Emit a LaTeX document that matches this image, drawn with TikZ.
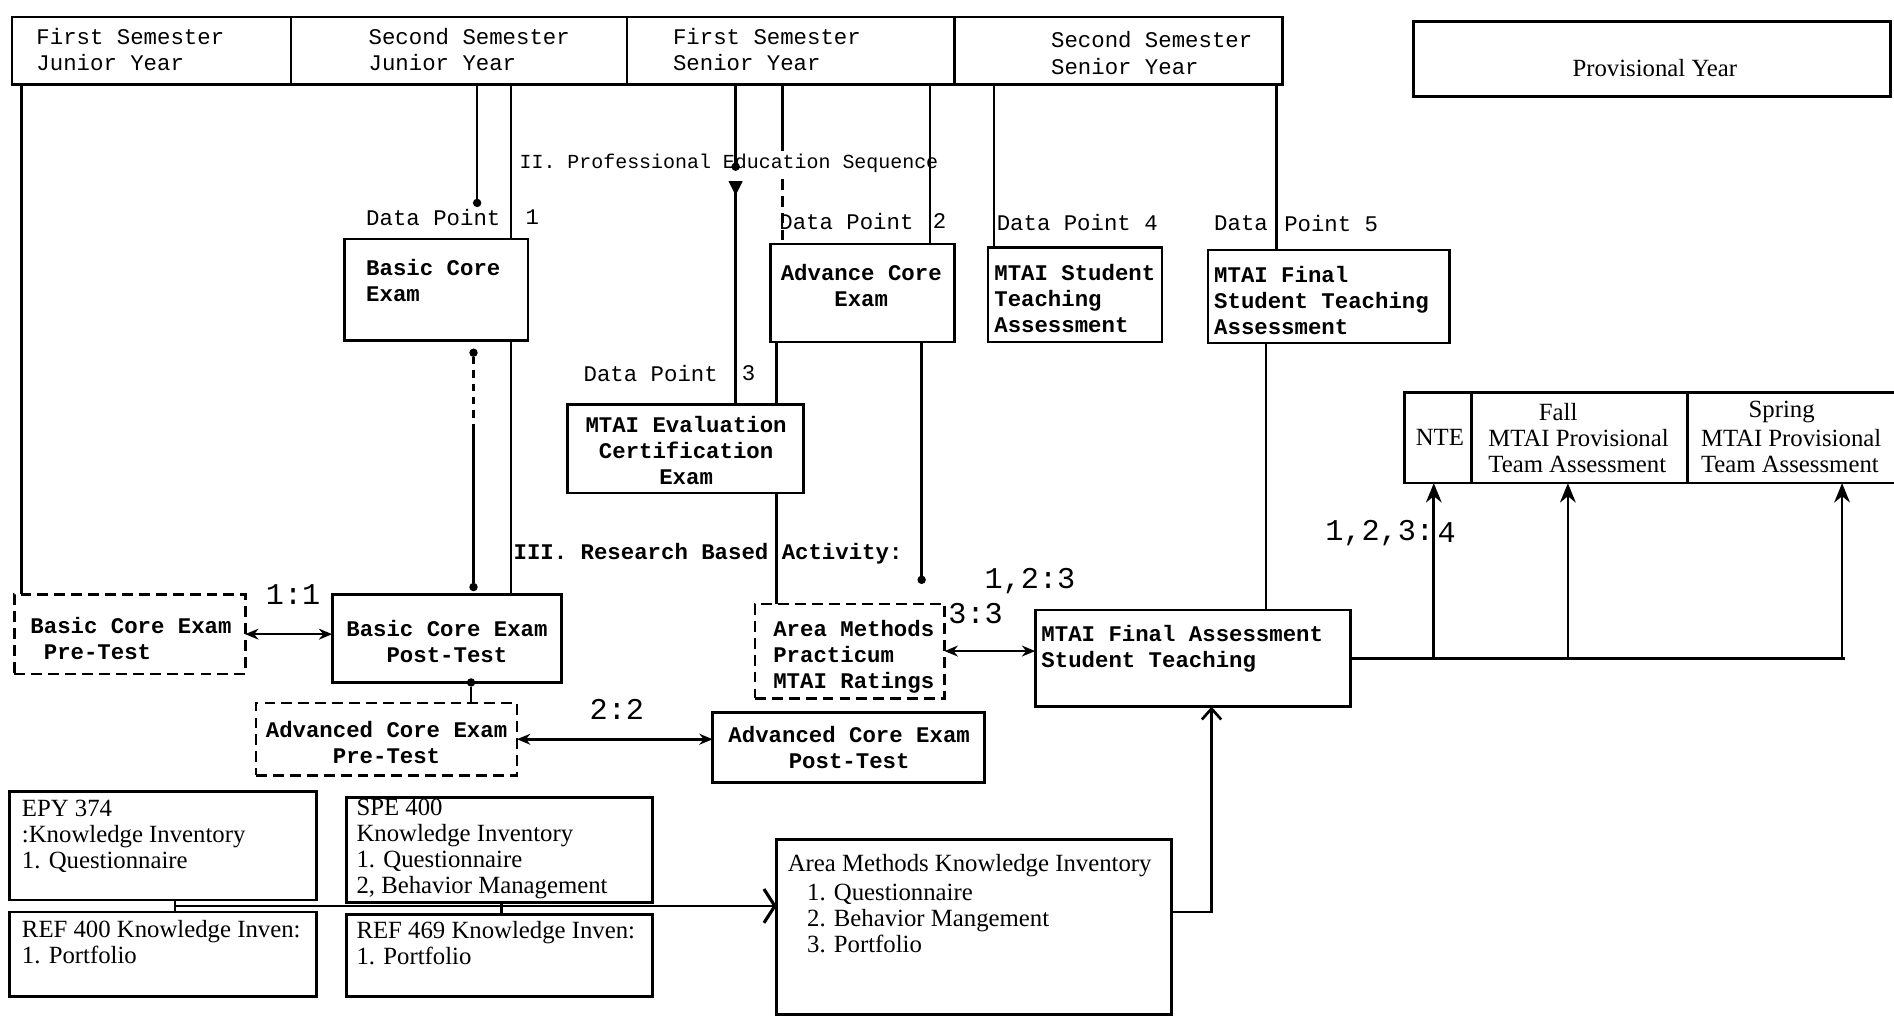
\documentclass[tikz,border=0pt]{standalone}
\usepackage{fontspec}
\usetikzlibrary{arrows.meta,calc}
\newfontfamily\monof{Liberation Mono}
\newfontfamily\serf{Liberation Serif}
\begin{document}
\begin{tikzpicture}[x=1pt,y=-1pt,
  ln/.style={line width=2.2pt},
  bx/.style={draw, line width=2.2pt, inner sep=0pt, outer sep=0pt, anchor=north west},
  dbx/.style={bx, dash pattern=on 9pt off 5pt},
  hd/.style={font=\monof\fontsize{18.5}{22}\selectfont, inner sep=0pt, align=left, anchor=west},
  bt/.style={font=\monof\bfseries\fontsize{18.5}{21.5}\selectfont, inner sep=0pt, align=left, anchor=west},
  btc/.style={bt, align=center, anchor=center},
  lbl/.style={font=\monof\fontsize{18.5}{21}\selectfont, inner sep=0pt, anchor=west},
  sml/.style={font=\monof\fontsize{16.5}{20}\selectfont, inner sep=0pt, anchor=west},
  rat/.style={font=\monof\fontsize{25}{25}\selectfont, inner sep=0pt, anchor=west},
  st/.style={font=\serf\fontsize{20.5}{21.5}\selectfont, inner sep=0pt, align=left, anchor=west},
  dotn/.style={circle, fill, inner sep=0pt, minimum size=7pt},
  dbl/.style={line width=2.2pt, {Stealth[length=11pt,width=9pt]}-{Stealth[length=11pt,width=9pt]}},
  uparr/.style={line width=2.2pt, -{Stealth[length=16pt,width=13pt]}}
]
\useasboundingbox (0,0) rectangle (1568,843);

% header
\node[bx, minimum width=231, minimum height=56] (h1) at (10,14) {};
\node[bx, minimum width=278, minimum height=56] (h2) at (241,14) {};
\node[bx, minimum width=271, minimum height=56] (h3) at (519,14) {};
\node[bx, minimum width=272, minimum height=56] (h4) at (790,14) {};
\node[hd] (h1t) at (30,41) {First Semester\\Junior Year};
\node[hd] (h2t) at (305,41) {Second Semester\\Junior Year};
\node[hd] (h3t) at (557,41) {First Semester\\Senior Year};
\node[hd] (h4t) at (870,44) {Second Semester\\Senior Year};
\node[bx, minimum width=395, minimum height=62] (prov) at (1170,18) {};
\node[st, anchor=center] (provt) at (1370,56) {Provisional Year};

% upper boxes
\node[bx, minimum width=152, minimum height=84] (bce) at (285,198) {};
\node[bt] (bcet) at (303,232) {Basic Core\\Exam};
\node[bx, minimum width=152, minimum height=81] (adv) at (638,202) {};
\node[btc] (advt) at (713,236) {Advance Core\\Exam};
\node[bx, minimum width=144, minimum height=78] (stb) at (818,205) {};
\node[bt] (stbt) at (823,247) {MTAI Student\\Teaching\\Assessment};
\node[bx, minimum width=200, minimum height=77] (fin) at (1000,207) {};
\node[bt] (fint) at (1005,249) {MTAI Final\\Student Teaching\\Assessment};
\node[bx, minimum width=195, minimum height=73] (eval) at (470,335) {};
\node[btc] (evalt) at (568,373) {MTAI Evaluation\\Certification\\Exam};

% labels
\node[lbl] (dp1) at (303,180) {Data Point};
\node[lbl] (dp1n) at (435,180) {1};
\node[lbl] (dp2) at (645,183) {Data Point};
\node[lbl] (dp2n) at (772,183) {2};
\node[lbl] (dp3) at (483,309) {Data Point};
\node[lbl] (dp3n) at (614,309) {3};
\node[lbl] (dp4) at (825,184) {Data Point 4};
\node[lbl] (dp5) at (1005,185) {Data};
\node[lbl] (dp5n) at (1063,185) {Point 5};
\node[sml] (seq) at (430,135) {II. Professional Education Sequence};
\node[bt] (res) at (425,458) {III. Research Based Activity:};

% middle boxes
\node[dbx, minimum width=191, minimum height=66] (pre) at (12,492) {};
\node[bt] (pret) at (25,529) {Basic Core Exam\\~Pre-Test};
\node[bx, minimum width=190, minimum height=73] (post) at (275,492) {};
\node[btc] (postt) at (370,531) {Basic Core Exam\\Post-Test};
\node[dbx, minimum width=216, minimum height=60] (apre) at (212,582) {};
\node[btc] (apret) at (320,615) {Advanced Core Exam\\Pre-Test};
\node[bx, minimum width=225, minimum height=58] (apost) at (590,590) {};
\node[btc] (apostt) at (703,619) {Advanced Core Exam\\Post-Test};
\node[dbx, minimum width=157, minimum height=78] (amp) at (625,500) {};
\node[bt] (ampt) at (640,544) {Area Methods\\Practicum\\MTAI Ratings};
\node[bx, minimum width=261, minimum height=80] (fa) at (857,505) {};
\node[bt] (fat) at (862,537) {MTAI Final Assessment\\Student Teaching};

% provisional row
\node[bx, minimum width=55, minimum height=75] (nte) at (1163,325) {};
\node[bx, minimum width=179, minimum height=75] (fall) at (1218,325) {};
\node[bx, minimum width=180, minimum height=75] (spring) at (1397,325) {};
\node[st, anchor=center] (ntet) at (1192,362) {NTE};
\node[st, anchor=center] (fallh) at (1290,341) {Fall};
\node[st] (fallt) at (1232,373) {MTAI Provisional\\Team Assessment};
\node[st, anchor=center] (springh) at (1475,341) {Spring};
\node[st] (springt) at (1408,373) {MTAI Provisional\\Team Assessment};

% ratio labels
\node[rat] (r11) at (220,492) {1:1};
\node[rat] (r22) at (488,587) {2:2};
\node[rat] (r123) at (815,481) {1,2:3};
\node[rat] (r33) at (785,508) {3:3};
\node[rat] (r1234) at (1097,441) {1,2,3:};
\node[rat] (r1234n) at (1190,441) {4};

% lower boxes
\node[bx, minimum width=254, minimum height=90] (epy) at (8,655) {};
\node[st] (epyt) at (18,692) {EPY 374\\:Knowledge Inventory\\1. Questionnaire};
\node[bx, minimum width=253, minimum height=87] (spe) at (287,660) {};
\node[st] (spet) at (295,703) {SPE 400\\Knowledge Inventory\\1. Questionnaire\\2, Behavior Management};
\node[bx, minimum width=254, minimum height=70] (rfa) at (8,755) {};
\node[st] (rfat) at (18,780) {REF 400 Knowledge Inven:\\1. Portfolio};
\node[bx, minimum width=253, minimum height=68] (rfb) at (287,757) {};
\node[st] (rfbt) at (295,781) {REF 469 Knowledge Inven:\\1. Portfolio};
\node[bx, minimum width=327, minimum height=145] (akm) at (643,695) {};
\node[st] (akmh) at (652,717) {Area Methods Knowledge Inventory};
\node[st] (akmt) at (668,760) {1. Questionnaire\\2. Behavior Mangement\\3. Portfolio};

% connectors from header
\coordinate (L1) at (18,0);
\draw[ln] (h1.south -| L1) -- (pre.north -| L1);
\coordinate (d1) at (395,168);
\draw[ln] (h2.south -| d1) -- (d1);
\node[dotn] (d1dot) at (d1) {};
\coordinate (L2) at (423,0);
\draw[ln] (h2.south -| L2) -- (bce.north -| L2);
\draw[ln] (bce.south -| L2) -- (post.north -| L2);
\node[dotn] (d2) at (392,292) {};
\coordinate (L3m) at (392,355);
\node[dotn] (d3) at (392,486) {};
\draw[ln, dash pattern=on 6pt off 5pt] (d2) -- (L3m);
\draw[ln] (L3m) -- (d3);
\coordinate (L4) at (609,138);
\draw[ln] (h3.south -| L4) -- (L4);
\node[dotn] (d4) at (L4) {};
\coordinate (L4b) at (609,150);
\draw[ln, {Triangle[reversed,length=12pt,width=11pt]}-] (L4b) -- (eval.north -| L4b);
\coordinate (L5a) at (648,125);
\coordinate (L5b) at (648,148);
\draw[ln] (h3.south -| L5a) -- (L5a);
\draw[ln, dash pattern=on 9pt off 5pt] (L5b) -- (adv.north -| L5b);
\coordinate (L6) at (770,0);
\draw[ln] (h3.south -| L6) -- (adv.north -| L6);
\coordinate (L7) at (643,0);
\draw[ln] (adv.south -| L7) -- (eval.north -| L7);
\draw[ln] (eval.south -| L7) -- (amp.north -| L7);
\coordinate (L8) at (763,480);
\draw[ln] (adv.south -| L8) -- (L8);
\node[dotn] (d5) at (L8) {};
\coordinate (L9) at (823,0);
\draw[ln] (h4.south -| L9) -- (stb.north -| L9);
\coordinate (L10) at (1057,0);
\draw[ln] (h4.south -| L10) -- (fin.north -| L10);
\coordinate (L11) at (1048,0);
\draw[ln] (fin.south -| L11) -- (fa.north -| L11);

% to provisional year
\coordinate (R) at (1527,0);
\draw[ln] (fa.east) -- (fa.east -| R);
\coordinate (A1) at (1187,0);
\coordinate (A2) at (1298,0);
\coordinate (A3) at (1525,0);
\draw[uparr] (fa.east -| A1) -- (nte.south -| A1);
\draw[uparr] (fa.east -| A2) -- (nte.south -| A2);
\draw[uparr] (fa.east -| A3) -- (nte.south -| A3);

% pairs
\draw[dbl] (pre.east) -- (pre.east -| post.west);
\coordinate (L12) at (390,0);
\node[dotn] (d6) at (post.south -| L12) {};
\draw[ln] (d6) -- (apre.north -| L12);
\draw[dbl] (apre.east) -- (apre.east -| apost.west);
\draw[dbl] (amp.east) -- (amp.east -| fa.west);

% lower connectors
\coordinate (B1) at (145,750);
\coordinate (B2) at (415,750);
\draw[ln] (epy.south -| B1) -- (rfa.north -| B1);
\draw[ln] (spe.south -| B2) -- (rfb.north -| B2);
\draw[line width=2.2pt, -{Straight Barb[length=9pt,width=28pt,line width=2.6pt]}] (B1) -- (B1 -| akm.west);
\coordinate (C1) at (1003,755);
\draw[ln, -{Straight Barb[length=9pt,width=16pt]}] (akm.east |- C1) -- (C1) -- (fa.south -| C1);
\end{tikzpicture}
\end{document}
